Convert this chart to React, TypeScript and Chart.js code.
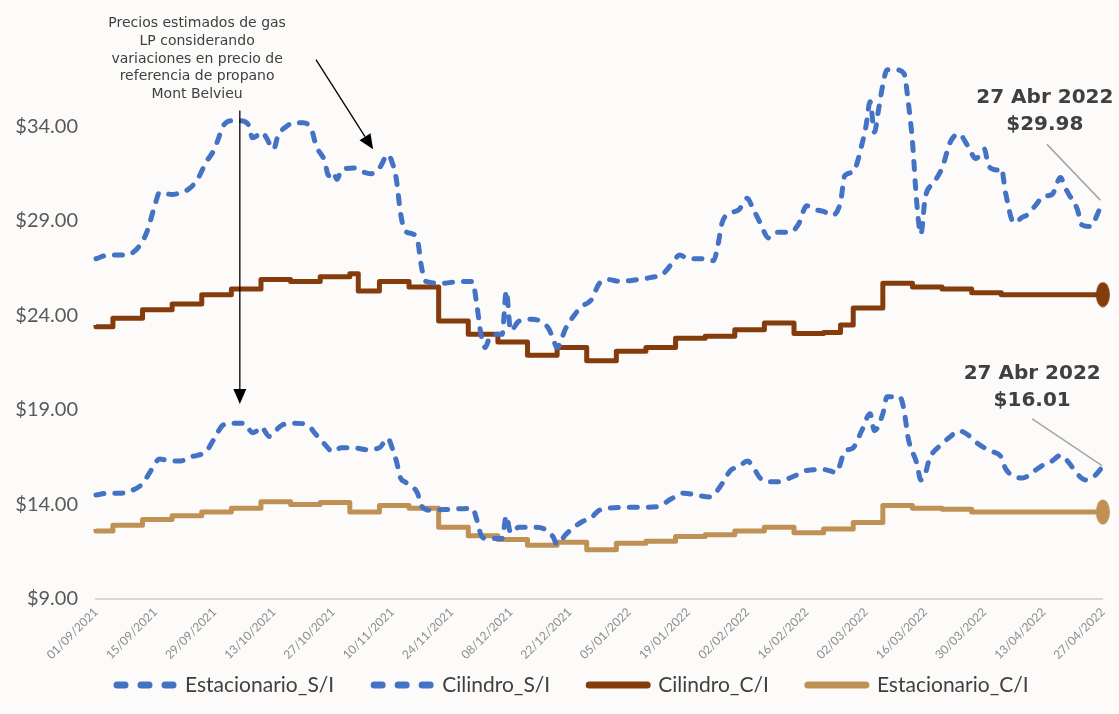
import React, { useEffect, useRef } from 'react';
import { Chart, registerables } from 'chart.js';

Chart.register(...registerables);

// ---------- Data ----------
const xTickLabels = [
  '01/09/2021', '15/09/2021', '29/09/2021', '13/10/2021', '27/10/2021', '10/11/2021',
  '24/11/2021', '08/12/2021', '22/12/2021', '05/01/2022', '19/01/2022', '02/02/2022',
  '16/02/2022', '02/03/2022', '16/03/2022', '30/03/2022', '13/04/2022', '27/04/2022',
];
const tickStepDays = 14; // days between x tick labels (day 0 = 01/09/2021)
const yTickValues = [9, 14, 19, 24, 29, 34];

const seriesNames = ['Estacionario_S/I', 'Cilindro_S/I', 'Cilindro_C/I', 'Estacionario_C/I'];

// Estacionario_S/I (lower dashed blue)
const estSIDays = [0, 3, 6, 8, 11, 13, 15, 18, 20, 22, 24, 26, 28, 30, 32, 35, 37, 38, 39, 41, 42, 44, 47, 50, 52, 54, 56, 58, 61, 64, 67, 69, 70, 71, 72, 73, 75, 76, 77, 79, 84, 89, 90, 91, 92, 96, 97, 98, 100, 104, 106, 108, 109, 111, 113, 115, 117, 119, 121, 125, 129, 133, 136, 139, 142, 145, 146, 148, 150, 152, 154, 155, 157, 159, 161, 164, 166, 168, 172, 175, 177, 179, 181, 183, 184, 186, 187, 190, 191, 192, 194, 195, 196, 197, 200, 202, 204, 206, 208, 210, 212, 214, 215, 217, 219, 222, 224, 226, 228, 230, 232, 234, 236, 238];
const estSIValues = [14.5, 14.6, 14.6, 14.7, 15.1, 15.8, 16.4, 16.3, 16.3, 16.5, 16.6, 16.8, 17.5, 18.2, 18.3, 18.3, 17.8, 17.9, 18.1, 17.6, 17.8, 18.2, 18.3, 18.2, 17.7, 17.2, 16.8, 17.0, 17.0, 16.9, 17.0, 17.5, 17.0, 16.3, 15.4, 15.2, 14.9, 14.6, 13.9, 13.7, 13.75, 13.8, 13.2, 12.4, 12.2, 12.2, 13.4, 12.5, 12.8, 12.8, 12.7, 12.3, 11.9, 12.4, 12.8, 13.1, 13.3, 13.7, 13.8, 13.85, 13.85, 13.9, 14.3, 14.6, 14.5, 14.4, 14.5, 15.1, 15.8, 16.0, 16.3, 16.1, 15.4, 15.2, 15.2, 15.4, 15.6, 15.8, 15.85, 15.7, 16.8, 17.0, 17.9, 18.8, 17.9, 18.8, 19.7, 19.7, 19.0, 17.5, 16.2, 15.3, 15.6, 16.4, 17.2, 17.6, 17.9, 17.7, 17.3, 17.0, 16.8, 16.5, 15.9, 15.5, 15.4, 15.8, 16.1, 16.3, 16.6, 16.2, 15.6, 15.3, 15.5, 16.01];

// Cilindro_S/I (upper dashed blue)
const cilSIDays = [0, 3, 7, 10, 12, 14, 15, 18, 20, 22, 24, 26, 28, 29, 30, 32, 34, 36, 37, 38, 39, 40, 42, 43, 45, 47, 49, 51, 52, 54, 55, 56, 57, 58, 61, 63, 65, 67, 69, 70, 71, 72, 73, 75, 76, 77, 78, 82, 86, 89, 90, 91, 92, 93, 95, 96, 97, 98, 100, 103, 105, 107, 108, 109, 111, 113, 115, 117, 119, 121, 124, 128, 131, 134, 136, 138, 140, 143, 146, 147, 148, 150, 152, 154, 155, 157, 159, 161, 164, 166, 168, 170, 172, 174, 176, 177, 179, 181, 182, 183, 184, 185, 186, 187, 189, 191, 192, 193, 194, 195, 196, 198, 200, 202, 204, 206, 208, 210, 211, 213, 214, 215, 217, 219, 220, 222, 224, 226, 228, 229, 230, 232, 233, 235, 236, 237, 238];
const cilSIValues = [27.0, 27.2, 27.2, 27.6, 28.4, 29.9, 30.5, 30.4, 30.5, 30.7, 31.2, 32.1, 32.8, 33.4, 34.0, 34.3, 34.3, 34.1, 33.4, 33.5, 33.7, 33.5, 32.8, 33.5, 34.0, 34.2, 34.2, 33.8, 33.0, 32.2, 31.4, 31.6, 31.2, 31.7, 31.8, 31.6, 31.5, 31.8, 32.5, 32.1, 31.2, 29.4, 28.5, 28.3, 28.0, 26.5, 25.8, 25.7, 25.8, 25.8, 24.6, 23.0, 22.3, 22.8, 23.0, 23.0, 25.3, 23.2, 23.7, 23.8, 23.7, 23.3, 22.8, 22.3, 23.3, 24.0, 24.5, 24.8, 25.7, 25.9, 25.8, 25.9, 26.0, 26.2, 26.7, 27.2, 27.0, 27.0, 26.9, 27.7, 28.9, 29.4, 29.6, 30.2, 29.8, 28.9, 28.1, 28.4, 28.4, 28.8, 29.8, 29.6, 29.5, 29.3, 30.0, 31.4, 31.6, 33.0, 34.0, 35.3, 33.7, 34.9, 36.2, 37.0, 37.0, 36.8, 35.3, 33.2, 30.0, 28.3, 30.2, 31.0, 31.8, 33.2, 33.6, 33.0, 32.3, 32.8, 31.9, 31.7, 31.8, 30.5, 28.9, 29.2, 29.3, 29.8, 30.3, 30.4, 31.3, 30.8, 30.4, 29.6, 28.8, 28.7, 29.0, 29.5, 29.98];

// Cilindro_C/I (brown, step line) - days where the price changes
const cilCIDays = [0, 4, 11, 18, 25, 32, 39, 46, 53, 60, 62, 67, 74, 81, 88, 95, 102, 109, 116, 123, 130, 137, 144, 151, 158, 165, 172, 176, 179, 186, 193, 200, 207, 214, 221, 238];
const cilCIValues = [23.5, 23.4, 23.85, 24.3, 24.6, 25.1, 25.4, 25.9, 25.8, 26.05, 26.2, 25.3, 25.8, 25.5, 23.7, 23.0, 22.6, 21.9, 22.3, 21.6, 22.1, 22.3, 22.8, 22.9, 23.25, 23.6, 23.05, 23.1, 23.5, 24.4, 25.7, 25.5, 25.4, 25.2, 25.1, 25.1];

// Estacionario_C/I (tan, step line)
const estCIDays = [0, 4, 11, 18, 25, 32, 39, 46, 53, 60, 67, 74, 81, 88, 95, 102, 109, 116, 123, 130, 137, 144, 151, 158, 165, 172, 179, 186, 193, 200, 207, 214, 238];
const estCIValues = [12.7, 12.6, 12.9, 13.2, 13.4, 13.6, 13.8, 14.15, 14.0, 14.1, 13.6, 13.95, 13.8, 12.8, 12.35, 12.15, 11.85, 12.0, 11.6, 11.95, 12.05, 12.3, 12.4, 12.6, 12.8, 12.5, 12.7, 13.05, 13.95, 13.8, 13.75, 13.6, 13.6];

const noteLines = [
  'Precios estimados de gas',
  'LP considerando',
  'variaciones en precio de',
  'referencia de propano',
  'Mont Belvieu',
];
const calloutTop = ['27 Abr 2022', '$29.98'];
const calloutBottom = ['27 Abr 2022', '$16.01'];

// ---------- Styles ----------
const BLUE = '#4472C4';
const BROWN = '#843C0C';
const TAN = '#BF9155';
const TEXT = '#404040';
const TICK = '#595959';

function makeEllipse(color: string) {
  const c = document.createElement('canvas');
  c.width = 16;
  c.height = 26;
  const g = c.getContext('2d')!;
  g.fillStyle = color;
  g.beginPath();
  g.ellipse(8, 13, 7, 12.5, 0, 0, Math.PI * 2);
  g.fill();
  return c;
}

const toPoints = (days: number[], vals: number[]) => days.map((d, i) => ({ x: d, y: vals[i] }));

function drawArrow(ctx: CanvasRenderingContext2D, x1: number, y1: number, x2: number, y2: number) {
  const ang = Math.atan2(y2 - y1, x2 - x1);
  const len = 15;
  const hw = 6.5;
  const bx = x2 - len * Math.cos(ang);
  const by = y2 - len * Math.sin(ang);
  ctx.save();
  ctx.strokeStyle = '#000';
  ctx.lineWidth = 1.3;
  ctx.beginPath();
  ctx.moveTo(x1, y1);
  ctx.lineTo(bx, by);
  ctx.stroke();
  ctx.fillStyle = '#000';
  ctx.beginPath();
  ctx.moveTo(x2, y2);
  ctx.lineTo(bx + hw * Math.sin(ang), by - hw * Math.cos(ang));
  ctx.lineTo(bx - hw * Math.sin(ang), by + hw * Math.cos(ang));
  ctx.closePath();
  ctx.fill();
  ctx.restore();
}

const overlayPlugin = {
  id: 'overlay',
  beforeDraw(chart: any) {
    const { ctx, width, height } = chart;
    ctx.save();
    ctx.fillStyle = '#fcfbfa';
    ctx.fillRect(0, 0, width, height);
    ctx.restore();
  },
  afterDraw(chart: any) {
    const { ctx } = chart;
    const xs = chart.scales.x;
    const ys = chart.scales.y;
    const px = (d: number) => xs.getPixelForValue(d);
    const py = (v: number) => ys.getPixelForValue(v);

    // Note text
    ctx.save();
    ctx.fillStyle = TEXT;
    ctx.font = '14px "DejaVu Sans"';
    ctx.textAlign = 'center';
    ctx.textBaseline = 'middle';
    const nx = px(23.9);
    const ny = py(39.45);
    noteLines.forEach((t, i) => ctx.fillText(t, nx, ny + i * 17.8));
    ctx.restore();

    // Arrows
    drawArrow(ctx, px(52), py(37.53), px(65.5), py(32.79));
    drawArrow(ctx, px(34), py(34.84), px(34), py(19.32));

    // Callouts
    ctx.save();
    ctx.fillStyle = TEXT;
    ctx.font = 'bold 20px "DejaVu Sans"';
    ctx.textAlign = 'center';
    ctx.textBaseline = 'middle';
    ctx.fillText(calloutTop[0], px(224.3), py(35.53));
    ctx.fillText(calloutTop[1], px(224.3), py(34.1));
    ctx.fillText(calloutBottom[0], px(221.3), py(20.9));
    ctx.fillText(calloutBottom[1], px(221.3), py(19.47));
    ctx.strokeStyle = '#a6a6a6';
    ctx.lineWidth = 1.5;
    ctx.beginPath();
    ctx.moveTo(px(224.8), py(33.05));
    ctx.lineTo(px(237.4), py(30.1));
    ctx.moveTo(px(221.3), py(18.53));
    ctx.lineTo(px(237.8), py(16.05));
    ctx.stroke();
    ctx.restore();

    // Legend
    const items = [
      { label: seriesNames[0], color: BLUE, dashed: true },
      { label: seriesNames[1], color: BLUE, dashed: true },
      { label: seriesNames[2], color: BROWN, dashed: false },
      { label: seriesNames[3], color: TAN, dashed: false },
    ];
    const ly = 685;
    let lx = 113;
    ctx.save();
    ctx.font = '21px Lato';
    ctx.textBaseline = 'middle';
    ctx.textAlign = 'left';
    items.forEach((it) => {
      ctx.strokeStyle = it.color;
      ctx.lineWidth = 7;
      ctx.lineCap = 'round';
      ctx.beginPath();
      if (it.dashed) {
        for (let k = 0; k < 3; k++) {
          const s = lx + 4 + k * 24;
          ctx.moveTo(s, ly);
          ctx.lineTo(s + 8, ly);
        }
      } else {
        ctx.moveTo(lx + 3, ly);
        ctx.lineTo(lx + 61, ly);
      }
      ctx.stroke();
      ctx.fillStyle = TEXT;
      ctx.fillText(it.label, lx + 72, ly);
      const w = ctx.measureText(it.label).width;
      lx += 72 + w + 36;
    });
    ctx.restore();
  },
};

export default function App() {
  const canvasRef = useRef<HTMLCanvasElement>(null);

  useEffect(() => {
    if (!canvasRef.current) return;
    const brownEnd = makeEllipse(BROWN);
    const tanEnd = makeEllipse(TAN);

    const dashed = (label: string, days: number[], vals: number[]) => ({
      label,
      data: toPoints(days, vals),
      borderColor: BLUE,
      backgroundColor: BLUE,
      borderWidth: 5,
      borderDash: [8, 11],
      borderCapStyle: 'round',
      borderJoinStyle: 'round',
      cubicInterpolationMode: 'monotone',
      pointRadius: 0,
      fill: false,
      clip: false,
    });
    const stepped = (label: string, days: number[], vals: number[], color: string, endImg: HTMLCanvasElement) => ({
      label,
      data: toPoints(days, vals),
      borderColor: color,
      backgroundColor: color,
      borderWidth: 5,
      stepped: 'after',
      borderJoinStyle: 'round',
      pointRadius: (c: any) => (c.dataIndex === days.length - 1 ? 8 : 0),
      pointStyle: (c: any) => (c.dataIndex === days.length - 1 ? endImg : 'circle'),
      fill: false,
      clip: false,
    });

    const chart = new Chart(canvasRef.current, {
      type: 'line',
      data: {
        datasets: [
          dashed(seriesNames[0], estSIDays, estSIValues),
          dashed(seriesNames[1], cilSIDays, cilSIValues),
          stepped(seriesNames[2], cilCIDays, cilCIValues, BROWN, brownEnd),
          stepped(seriesNames[3], estCIDays, estCIValues, TAN, tanEnd),
        ] as any,
      },
      options: {
        animation: false,
        responsive: true,
        maintainAspectRatio: false,
        layout: { padding: { top: 10, right: 15, left: 0, bottom: 0 } },
        plugins: { legend: { display: false }, tooltip: { enabled: false } },
        events: [],
        scales: {
          x: {
            type: 'linear',
            min: 0,
            max: (xTickLabels.length - 1) * tickStepDays,
            grid: { display: false, drawTicks: false },
            border: { display: true, color: '#d9d9d9', width: 2 },
            afterBuildTicks: (s: any) => {
              s.ticks = xTickLabels.map((_, i) => ({ value: i * tickStepDays }));
            },
            afterFit: (s: any) => {
              s.height = 115;
            },
            ticks: {
              autoSkip: false,
              maxRotation: 45,
              minRotation: 45,
              padding: 6,
              color: '#8c8c8c',
              font: { family: 'Lato', size: 12 },
              callback: (v: any) => xTickLabels[Math.round(Number(v) / tickStepDays)],
            },
          },
          y: {
            type: 'linear',
            min: 9,
            max: 40,
            grid: { display: false, drawTicks: false },
            border: { display: false },
            afterBuildTicks: (s: any) => {
              s.ticks = yTickValues.map((v) => ({ value: v }));
            },
            afterFit: (s: any) => {
              s.width = 96;
              s.paddingTop = 0;
              s.paddingBottom = 0;
            },
            ticks: {
              padding: 18,
              color: TICK,
              font: { family: 'Lato', size: 20 },
              callback: (v: any) => '$' + Number(v).toFixed(2),
            },
          },
        },
      },
      plugins: [overlayPlugin],
    } as any);

    return () => chart.destroy();
  }, []);

  return (
    <div style={{ position: 'fixed', left: 0, top: 0, width: 1119, height: 714 }}>
      <canvas ref={canvasRef} />
    </div>
  );
}
